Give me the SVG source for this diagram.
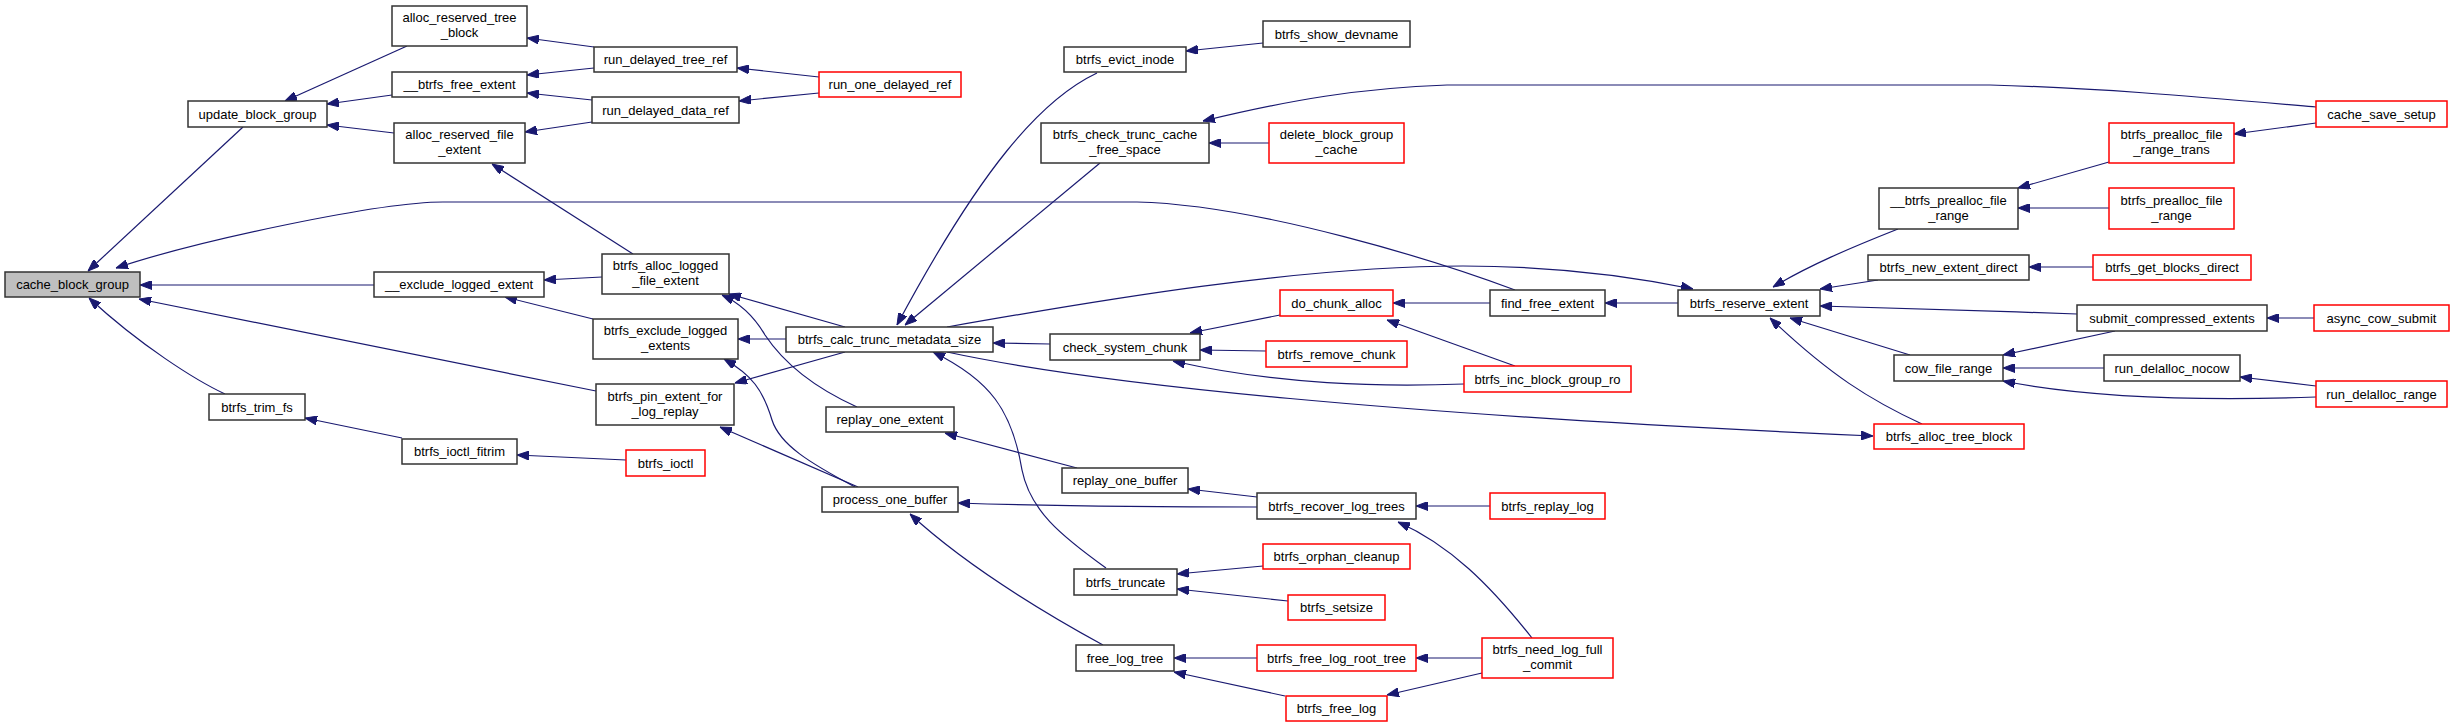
<svg xmlns="http://www.w3.org/2000/svg" width="2455" height="727" viewBox="0 0 2455 727">
<style>
.n rect{fill:#fff;stroke:#333;stroke-width:1.5}
.n.r rect{stroke:#f00}
.n.f rect{fill:#bfbfbf}
text{font-family:"Liberation Sans",Arial,sans-serif;font-size:13px;text-anchor:middle;fill:#000}
#edges path{fill:none;stroke:#191970;stroke-width:1.2;marker-end:url(#a)}
</style>
<defs>
<marker id="a" viewBox="0 0 12 9" refX="12" refY="4.5" markerWidth="12" markerHeight="9" markerUnits="userSpaceOnUse" orient="auto">
<path d="M0,0 L12,4.5 L0,9 z" fill="#191970" stroke="#191970" stroke-width="1"/>
</marker>
</defs>
<rect width="2455" height="727" fill="#fff"/>
<g id="edges">
<path d="M243,127 L88,271"/>
<path d="M1515,290 C1440,262 1260,205 1137,202 L443,202 C380,202 200,240 116,268"/>
<path d="M374,285 L140,285"/>
<path d="M596,391 L139,299"/>
<path d="M225,394 C195,380 140,345 89,298"/>
<path d="M407,46 L285,101"/>
<path d="M392,95 L327,104"/>
<path d="M394,133 L327,125"/>
<path d="M594,47 L527,38"/>
<path d="M594,68 L527,75"/>
<path d="M592,100 L527,93"/>
<path d="M592,122 L525,132"/>
<path d="M633,254 L492,164"/>
<path d="M819,77 L737,68"/>
<path d="M819,93 L739,101"/>
<path d="M602,277 L544,280"/>
<path d="M593,319 L505,297"/>
<path d="M845,327 L729,294"/>
<path d="M857,407 C815,388 785,365 765,335 C755,318 740,303 722,295"/>
<path d="M786,339 L738,339"/>
<path d="M845,352 L735,383"/>
<path d="M858,487 L720,427"/>
<path d="M855,487 C810,463 780,445 772,420 C763,390 752,375 724,359"/>
<path d="M626,460 L517,455"/>
<path d="M402,438 L305,418"/>
<path d="M1097,73 C1040,100 980,170 897,325"/>
<path d="M1100,163 L905,325"/>
<path d="M1050,344 L993,343"/>
<path d="M1106,568 C1060,535 1030,510 1022,470 C1012,410 990,380 933,352"/>
<path d="M1263,43 L1186,51"/>
<path d="M2316,107 C2200,97 2100,88 1990,85 L1447,85 C1360,88 1290,100 1203,121"/>
<path d="M1269,143 L1209,143"/>
<path d="M1280,315 L1190,333"/>
<path d="M1266,351 L1200,350"/>
<path d="M1464,384 C1380,387 1280,385 1173,361"/>
<path d="M1490,303 L1393,303"/>
<path d="M1515,366 L1387,320"/>
<path d="M1678,303 L1605,303"/>
<path d="M1490,506 L1416,506"/>
<path d="M1532,638 C1490,585 1450,545 1398,522"/>
<path d="M1077,468 L945,433"/>
<path d="M1257,507 C1150,507 1050,506 958,503"/>
<path d="M1103,645 C1030,605 960,560 910,514"/>
<path d="M1257,497 L1188,489"/>
<path d="M1263,566 L1177,574"/>
<path d="M1288,601 L1177,589"/>
<path d="M1257,658 L1174,658"/>
<path d="M1285,696 L1174,672"/>
<path d="M1482,658 L1416,658"/>
<path d="M1482,673 L1387,695"/>
<path d="M947,327 C1100,300 1300,266 1463,266 C1560,266 1640,278 1693,289"/>
<path d="M1898,229 C1850,248 1810,265 1773,287"/>
<path d="M1878,280 L1820,289"/>
<path d="M2077,314 C1990,311 1900,308 1820,306"/>
<path d="M1910,355 L1790,318"/>
<path d="M1922,424 C1870,400 1830,375 1770,318"/>
<path d="M947,352 C1100,385 1400,415 1873,436"/>
<path d="M2109,162 L2018,188"/>
<path d="M2109,208 L2018,208"/>
<path d="M2316,123 L2234,134"/>
<path d="M2093,267 L2029,267"/>
<path d="M2314,318 L2267,318"/>
<path d="M2115,331 L2003,355"/>
<path d="M2104,368 L2003,368"/>
<path d="M2316,397 C2200,401 2090,398 2003,381"/>
<path d="M2316,386 L2240,377"/>
</g>
<g id="cache_block_group" class="n f"><rect x="5" y="272" width="135" height="25"/><text x="72.5" y="289">cache_block_group</text></g>
<g id="update_block_group" class="n"><rect x="188" y="101" width="139" height="26"/><text x="257.5" y="118.5">update_block_group</text></g>
<g id="alloc_reserved_tree_block" class="n"><rect x="392" y="6" width="135" height="40"/><text x="459.5" y="22">alloc_reserved_tree</text><text x="459.5" y="37">_block</text></g>
<g id="__btrfs_free_extent" class="n"><rect x="392" y="72" width="135" height="25"/><text x="459.5" y="89">__btrfs_free_extent</text></g>
<g id="alloc_reserved_file_extent" class="n"><rect x="394" y="123" width="131" height="40"/><text x="459.5" y="139">alloc_reserved_file</text><text x="459.5" y="154">_extent</text></g>
<g id="__exclude_logged_extent" class="n"><rect x="374" y="272" width="170" height="25"/><text x="459" y="289">__exclude_logged_extent</text></g>
<g id="btrfs_trim_fs" class="n"><rect x="209" y="394" width="96" height="26"/><text x="257" y="411.5">btrfs_trim_fs</text></g>
<g id="btrfs_ioctl_fitrim" class="n"><rect x="402" y="439" width="115" height="25"/><text x="459.5" y="456">btrfs_ioctl_fitrim</text></g>
<g id="run_delayed_tree_ref" class="n"><rect x="594" y="47" width="143" height="25"/><text x="665.5" y="64">run_delayed_tree_ref</text></g>
<g id="run_delayed_data_ref" class="n"><rect x="592" y="97" width="147" height="26"/><text x="665.5" y="114.5">run_delayed_data_ref</text></g>
<g id="btrfs_alloc_logged_file_extent" class="n"><rect x="602" y="254" width="127" height="40"/><text x="665.5" y="270">btrfs_alloc_logged</text><text x="665.5" y="285">_file_extent</text></g>
<g id="btrfs_exclude_logged_extents" class="n"><rect x="593" y="319" width="145" height="40"/><text x="665.5" y="335">btrfs_exclude_logged</text><text x="665.5" y="350">_extents</text></g>
<g id="btrfs_pin_extent_for_log_replay" class="n"><rect x="596" y="384" width="138" height="41"/><text x="665" y="400.5">btrfs_pin_extent_for</text><text x="665" y="415.5">_log_replay</text></g>
<g id="btrfs_ioctl" class="n r"><rect x="626" y="450" width="79" height="26"/><text x="665.5" y="467.5">btrfs_ioctl</text></g>
<g id="run_one_delayed_ref" class="n r"><rect x="819" y="72" width="142" height="25"/><text x="890" y="89">run_one_delayed_ref</text></g>
<g id="btrfs_calc_trunc_metadata_size" class="n"><rect x="786" y="327" width="207" height="25"/><text x="889.5" y="344">btrfs_calc_trunc_metadata_size</text></g>
<g id="replay_one_extent" class="n"><rect x="826" y="407" width="128" height="25"/><text x="890" y="424">replay_one_extent</text></g>
<g id="process_one_buffer" class="n"><rect x="822" y="487" width="136" height="25"/><text x="890" y="504">process_one_buffer</text></g>
<g id="btrfs_evict_inode" class="n"><rect x="1064" y="47" width="122" height="25"/><text x="1125" y="64">btrfs_evict_inode</text></g>
<g id="btrfs_check_trunc_cache_free_space" class="n"><rect x="1041" y="123" width="168" height="40"/><text x="1125" y="139">btrfs_check_trunc_cache</text><text x="1125" y="154">_free_space</text></g>
<g id="check_system_chunk" class="n"><rect x="1050" y="334" width="150" height="26"/><text x="1125" y="351.5">check_system_chunk</text></g>
<g id="replay_one_buffer" class="n"><rect x="1062" y="468" width="126" height="25"/><text x="1125" y="485">replay_one_buffer</text></g>
<g id="btrfs_truncate" class="n"><rect x="1074" y="569" width="103" height="26"/><text x="1125.5" y="586.5">btrfs_truncate</text></g>
<g id="free_log_tree" class="n"><rect x="1076" y="645" width="98" height="26"/><text x="1125" y="662.5">free_log_tree</text></g>
<g id="btrfs_show_devname" class="n"><rect x="1263" y="21" width="147" height="26"/><text x="1336.5" y="38.5">btrfs_show_devname</text></g>
<g id="delete_block_group_cache" class="n r"><rect x="1269" y="123" width="135" height="40"/><text x="1336.5" y="139">delete_block_group</text><text x="1336.5" y="154">_cache</text></g>
<g id="do_chunk_alloc" class="n r"><rect x="1280" y="290" width="113" height="26"/><text x="1336.5" y="307.5">do_chunk_alloc</text></g>
<g id="btrfs_remove_chunk" class="n r"><rect x="1266" y="341" width="141" height="26"/><text x="1336.5" y="358.5">btrfs_remove_chunk</text></g>
<g id="btrfs_recover_log_trees" class="n"><rect x="1257" y="493" width="159" height="26"/><text x="1336.5" y="510.5">btrfs_recover_log_trees</text></g>
<g id="btrfs_orphan_cleanup" class="n r"><rect x="1263" y="544" width="147" height="25"/><text x="1336.5" y="561">btrfs_orphan_cleanup</text></g>
<g id="btrfs_setsize" class="n r"><rect x="1288" y="595" width="97" height="25"/><text x="1336.5" y="612">btrfs_setsize</text></g>
<g id="btrfs_free_log_root_tree" class="n r"><rect x="1257" y="645" width="159" height="26"/><text x="1336.5" y="662.5">btrfs_free_log_root_tree</text></g>
<g id="btrfs_free_log" class="n r"><rect x="1286" y="696" width="101" height="25"/><text x="1336.5" y="713">btrfs_free_log</text></g>
<g id="find_free_extent" class="n"><rect x="1490" y="290" width="115" height="26"/><text x="1547.5" y="307.5">find_free_extent</text></g>
<g id="btrfs_inc_block_group_ro" class="n r"><rect x="1464" y="366" width="167" height="26"/><text x="1547.5" y="383.5">btrfs_inc_block_group_ro</text></g>
<g id="btrfs_replay_log" class="n r"><rect x="1490" y="493" width="115" height="26"/><text x="1547.5" y="510.5">btrfs_replay_log</text></g>
<g id="btrfs_need_log_full_commit" class="n r"><rect x="1482" y="638" width="131" height="40"/><text x="1547.5" y="654">btrfs_need_log_full</text><text x="1547.5" y="669">_commit</text></g>
<g id="btrfs_reserve_extent" class="n"><rect x="1678" y="290" width="142" height="26"/><text x="1749" y="307.5">btrfs_reserve_extent</text></g>
<g id="__btrfs_prealloc_file_range" class="n"><rect x="1879" y="188" width="139" height="41"/><text x="1948.5" y="204.5">__btrfs_prealloc_file</text><text x="1948.5" y="219.5">_range</text></g>
<g id="btrfs_new_extent_direct" class="n"><rect x="1868" y="255" width="161" height="25"/><text x="1948.5" y="272">btrfs_new_extent_direct</text></g>
<g id="cow_file_range" class="n"><rect x="1894" y="355" width="109" height="26"/><text x="1948.5" y="372.5">cow_file_range</text></g>
<g id="btrfs_alloc_tree_block" class="n r"><rect x="1874" y="424" width="150" height="25"/><text x="1949" y="441">btrfs_alloc_tree_block</text></g>
<g id="cache_save_setup" class="n r"><rect x="2316" y="101" width="131" height="26"/><text x="2381.5" y="118.5">cache_save_setup</text></g>
<g id="btrfs_prealloc_file_range_trans" class="n r"><rect x="2109" y="123" width="125" height="40"/><text x="2171.5" y="139">btrfs_prealloc_file</text><text x="2171.5" y="154">_range_trans</text></g>
<g id="btrfs_prealloc_file_range" class="n r"><rect x="2109" y="188" width="125" height="41"/><text x="2171.5" y="204.5">btrfs_prealloc_file</text><text x="2171.5" y="219.5">_range</text></g>
<g id="btrfs_get_blocks_direct" class="n r"><rect x="2093" y="255" width="158" height="25"/><text x="2172" y="272">btrfs_get_blocks_direct</text></g>
<g id="submit_compressed_extents" class="n"><rect x="2077" y="305" width="190" height="26"/><text x="2172" y="322.5">submit_compressed_extents</text></g>
<g id="async_cow_submit" class="n r"><rect x="2314" y="305" width="135" height="26"/><text x="2381.5" y="322.5">async_cow_submit</text></g>
<g id="run_delalloc_nocow" class="n"><rect x="2104" y="355" width="136" height="26"/><text x="2172" y="372.5">run_delalloc_nocow</text></g>
<g id="run_delalloc_range" class="n r"><rect x="2316" y="381" width="131" height="26"/><text x="2381.5" y="398.5">run_delalloc_range</text></g>
</svg>
